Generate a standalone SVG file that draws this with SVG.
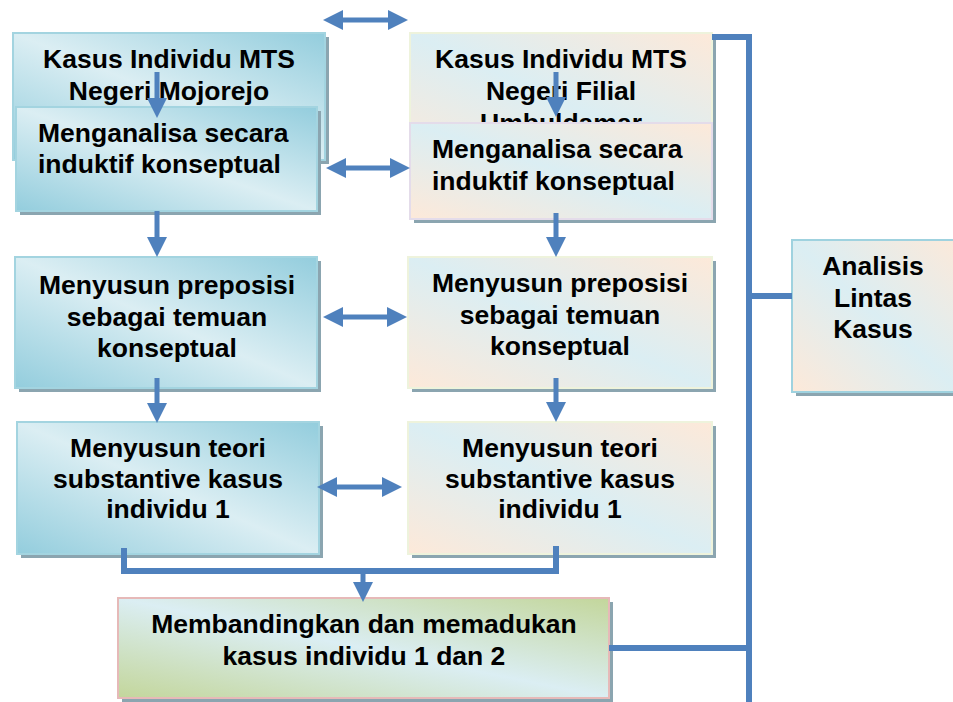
<svg xmlns="http://www.w3.org/2000/svg" width="953" height="702" viewBox="0 0 953 702">
<style>
text{font-family:"Liberation Sans",Arial,sans-serif;font-weight:bold;font-size:26.5px;fill:#000}
.c{text-anchor:middle}
.sh{fill:#8ba5b0}
.bl{fill:url(#gBlue);stroke:#a3d4e0;stroke-width:2}
.pe{fill:url(#gPeach);stroke:#eef3dc;stroke-width:2}
.pl{fill:url(#gPeach);stroke:#e4dcea;stroke-width:2}
.pc{fill:url(#gPeach);stroke:#9fd2df;stroke-width:2}
.gr{fill:url(#gGreen);stroke:#e6b9b8;stroke-width:2}
.ln{fill:none;stroke:#4f81bd;stroke-width:6}
.ar{fill:none;stroke:#4f81bd;stroke-width:5;marker-end:url(#ah)}
.da{fill:none;stroke:#4f81bd;stroke-width:5;marker-start:url(#ah);marker-end:url(#ah)}
</style>
<defs>
<linearGradient id="gBlue" x1="1" y1="0" x2="0" y2="1">
<stop offset="0" stop-color="#93cddd"/><stop offset="0.5" stop-color="#dbeef3"/><stop offset="1" stop-color="#93cddd"/>
</linearGradient>
<linearGradient id="gPeach" x1="1" y1="0" x2="0" y2="1">
<stop offset="0" stop-color="#fde9d9"/><stop offset="0.5" stop-color="#dbeef3"/><stop offset="1" stop-color="#fde9d9"/>
</linearGradient>
<linearGradient id="gGreen" x1="1" y1="0" x2="0" y2="1">
<stop offset="0" stop-color="#c3d69b"/><stop offset="0.5" stop-color="#dbeef3"/><stop offset="1" stop-color="#c3d69b"/>
</linearGradient>
<marker id="ah" viewBox="0 0 20 20" refX="1" refY="10" markerWidth="20" markerHeight="20" markerUnits="userSpaceOnUse" orient="auto-start-reverse">
<path d="M0,0 L20,10 L0,20 z" fill="#4f81bd"/>
</marker>
</defs>
<rect width="953" height="702" fill="#fff"/>

<g id="node-a1">
<rect class="sh" x="17" y="37" width="312" height="127"/>
<rect class="bl" x="13" y="33" width="312" height="127"/>
<text class="c" x="169" y="68">Kasus Individu MTS</text>
<text class="c" x="169" y="100">Negeri Mojorejo</text>
</g>
<g id="node-a2">
<rect class="sh" x="20" y="111" width="301" height="104"/>
<rect class="bl" x="16" y="107" width="301" height="104"/>
<text x="38" y="142">Menganalisa secara</text>
<text x="38" y="173">induktif konseptual</text>
</g>
<g id="node-a3">
<rect class="sh" x="19" y="261" width="302" height="131"/>
<rect class="bl" x="15" y="257" width="302" height="131"/>
<text class="c" x="167" y="294">Menyusun preposisi</text>
<text class="c" x="167" y="326">sebagai temuan</text>
<text class="c" x="167" y="357">konseptual</text>
</g>
<g id="node-a4">
<rect class="sh" x="21" y="426" width="302" height="132"/>
<rect class="bl" x="17" y="422" width="302" height="132"/>
<text class="c" x="168" y="457">Menyusun teori</text>
<text class="c" x="168" y="488">substantive kasus</text>
<text class="c" x="168" y="518">individu 1</text>
</g>

<g id="node-b1">
<rect class="sh" x="414" y="37" width="302" height="137"/>
<rect class="pe" x="410" y="33" width="302" height="137"/>
<text class="c" x="561" y="68">Kasus Individu MTS</text>
<text class="c" x="561" y="100">Negeri Filial</text>
<text class="c" x="561" y="132">Umbuldamar</text>
</g>
<g id="node-b2">
<rect class="sh" x="414" y="127" width="302" height="96"/>
<rect class="pl" x="410" y="123" width="302" height="96"/>
<text x="432" y="158">Menganalisa secara</text>
<text x="432" y="190">induktif konseptual</text>
</g>
<g id="node-b3">
<rect class="sh" x="412" y="261" width="304" height="131"/>
<rect class="pe" x="408" y="257" width="304" height="131"/>
<text class="c" x="560" y="292">Menyusun preposisi</text>
<text class="c" x="560" y="324">sebagai temuan</text>
<text class="c" x="560" y="355">konseptual</text>
</g>
<g id="node-b4">
<rect class="sh" x="412" y="426" width="304" height="132"/>
<rect class="pe" x="408" y="422" width="304" height="132"/>
<text class="c" x="560" y="457">Menyusun teori</text>
<text class="c" x="560" y="488">substantive kasus</text>
<text class="c" x="560" y="518">individu 1</text>
</g>

<g id="node-c">
<rect class="sh" x="796" y="244" width="170" height="152"/>
<rect class="pc" x="792" y="240" width="170" height="152"/>
<text class="c" x="873" y="275">Analisis</text>
<text class="c" x="873" y="307">Lintas</text>
<text class="c" x="873" y="338">Kasus</text>
</g>

<g id="node-d">
<rect class="sh" x="122" y="602" width="491" height="100"/>
<rect class="gr" x="118" y="598" width="491" height="100"/>
<text class="c" x="364" y="633">Membandingkan dan memadukan</text>
<text class="c" x="364" y="665">kasus individu 1 dan 2</text>
</g>

<g id="connectors">
<path class="da" d="M342,20 H389"/>
<path class="da" d="M345,168 H391"/>
<path class="da" d="M342,317 H388"/>
<path class="da" d="M336,487 H383"/>
<path class="ar" d="M157,72 V99"/>
<path class="ar" d="M157,211 V238"/>
<path class="ar" d="M157,378 V404"/>
<path class="ar" d="M556,72 V98"/>
<path class="ar" d="M556,213 V238"/>
<path class="ar" d="M556,378 V403"/>
<path class="ln" d="M124,548 V571 H556 V546"/>
<path class="ar" d="M363,571 V583"/>
<path class="ln" d="M712,37 H749 V702"/>
<path class="ln" d="M749,296 H792"/>
<path class="ln" d="M609,648 H749"/>
</g>
</svg>
